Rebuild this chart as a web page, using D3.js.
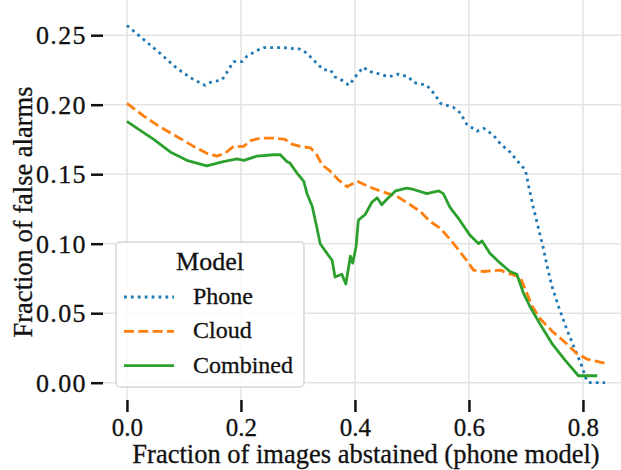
<!DOCTYPE html>
<meta charset="utf-8">
<style>
body { margin: 0; background: #fff; }
svg { display: block; }
.grid line { stroke: #e4e4e4; stroke-width: 1.5px; }
.axis path { display: none; }
.axis line { stroke: #111; stroke-width: 2.5px; }
text { stroke: #111; stroke-width: 0.3px; }
</style>
<svg width="621" height="470"></svg>
<script src="https://cdn.jsdelivr.net/npm/d3@7"></script>
<script>

// data
var phoneX = [0.000,0.029,0.058,0.088,0.117,0.137,0.146,0.167,0.175,0.187,0.202,0.211,0.228,0.240,0.275,0.304,0.316,0.330,0.345,0.357,0.365,0.380,0.389,0.395,0.406,0.415,0.424,0.444,0.459,0.476,0.494,0.503,0.526,0.541,0.550,0.573,0.585,0.596,0.614,0.626,0.643,0.655,0.672,0.684,0.699,0.705,0.713,0.722,0.731,0.737,0.746,0.757,0.772,0.786,0.798,0.807,0.813,0.839];
var phoneY = [0.257,0.247,0.237,0.226,0.218,0.214,0.216,0.218,0.223,0.231,0.231,0.235,0.239,0.241,0.241,0.240,0.237,0.231,0.225,0.225,0.220,0.217,0.214,0.217,0.223,0.227,0.224,0.222,0.220,0.222,0.220,0.216,0.214,0.207,0.201,0.198,0.194,0.186,0.181,0.183,0.178,0.172,0.166,0.160,0.153,0.141,0.126,0.111,0.096,0.084,0.069,0.055,0.038,0.024,0.012,0.001,0.000,0.000];

var cloudX = [0.000,0.029,0.058,0.088,0.117,0.140,0.158,0.172,0.187,0.205,0.216,0.234,0.257,0.278,0.286,0.304,0.322,0.333,0.342,0.357,0.371,0.386,0.404,0.424,0.444,0.474,0.497,0.515,0.532,0.550,0.567,0.579,0.596,0.608,0.626,0.655,0.667,0.690,0.699,0.711,0.725,0.746,0.766,0.789,0.807,0.839];
var cloudY = [0.201,0.192,0.184,0.177,0.170,0.165,0.163,0.165,0.170,0.170,0.174,0.176,0.176,0.175,0.172,0.170,0.169,0.164,0.157,0.152,0.146,0.141,0.145,0.141,0.138,0.134,0.128,0.123,0.116,0.111,0.103,0.097,0.088,0.081,0.080,0.081,0.079,0.076,0.067,0.055,0.046,0.037,0.030,0.021,0.017,0.014];

var combX = [0.000,0.018,0.047,0.076,0.105,0.140,0.169,0.193,0.205,0.228,0.257,0.269,0.281,0.286,0.298,0.310,0.316,0.325,0.333,0.339,0.351,0.360,0.365,0.377,0.384,0.392,0.396,0.402,0.406,0.418,0.430,0.439,0.447,0.456,0.471,0.491,0.503,0.526,0.547,0.555,0.567,0.582,0.602,0.617,0.623,0.637,0.655,0.672,0.684,0.696,0.708,0.725,0.746,0.769,0.792,0.825];
var combY = [0.188,0.183,0.175,0.166,0.160,0.156,0.159,0.161,0.160,0.163,0.164,0.164,0.159,0.158,0.151,0.145,0.136,0.127,0.112,0.100,0.093,0.088,0.076,0.078,0.071,0.091,0.086,0.098,0.117,0.121,0.130,0.133,0.128,0.132,0.138,0.140,0.139,0.136,0.138,0.136,0.126,0.118,0.106,0.100,0.102,0.093,0.086,0.080,0.078,0.064,0.054,0.042,0.028,0.016,0.005,0.005];

var xTicks = [0.0, 0.2, 0.4, 0.6, 0.8];
var yTicks = [0.00, 0.05, 0.10, 0.15, 0.20, 0.25];
var seriesNames = ["Phone", "Cloud", "Combined"];
var seriesColors = ["#1f77b4", "#ff7f0e", "#2ca02c"];
var seriesDash = ["2.8,4.1", "10,4.3", null];

var serif = "Liberation Serif";

var svg = d3.select("svg"),
    left = 103, right = 640, top = 7.5, bottom = 400;

var x = d3.scaleLinear().domain([-0.042, 0.9]).range([left, left + 0.942 * 570]);
var y = d3.scaleLinear().domain([0, 0.25]).range([382.7, 35.2]);

// grid
var grid = svg.append("g").attr("class", "grid");
grid.selectAll(".gx").data(xTicks).enter().append("line")
  .attr("x1", x).attr("x2", x).attr("y1", top).attr("y2", bottom);
grid.selectAll(".gy").data(yTicks).enter().append("line")
  .attr("x1", left).attr("x2", right).attr("y1", y).attr("y2", y);

// lines
var series = [
  d3.zip(phoneX, phoneY),
  d3.zip(cloudX, cloudY),
  d3.zip(combX, combY)
];
var line = d3.line().x(function(d) { return x(d[0]); }).y(function(d) { return y(d[1]); });

series.forEach(function(s, i) {
  svg.append("path").datum(s)
    .attr("d", line)
    .attr("fill", "none")
    .attr("stroke", seriesColors[i])
    .attr("stroke-width", 2.8)
    .attr("stroke-linejoin", "round")
    .attr("stroke-dasharray", seriesDash[i]);
});

// axes
var gx = svg.append("g").attr("class", "axis")
  .attr("transform", "translate(0," + bottom + ")")
  .call(d3.axisBottom(x).tickValues(xTicks).tickFormat(d3.format(".1f")).tickSize(12).tickPadding(6));
var gy = svg.append("g").attr("class", "axis")
  .attr("transform", "translate(" + left + ",0)")
  .call(d3.axisLeft(y).tickValues(yTicks).tickFormat(d3.format(".2f")).tickSize(12).tickPadding(4));
gx.attr("font-family", serif).attr("font-size", 25);
gy.attr("font-family", serif).attr("font-size", 26);
gx.selectAll("text").attr("fill", "#111");
gy.selectAll("text").attr("fill", "#111").style("letter-spacing", "1.4px");

// spines
svg.append("path")
  .attr("d", "M" + right + "," + top + "H" + left + "V" + bottom + "H" + right)
  .attr("fill", "none").attr("stroke", "#111").attr("stroke-width", 2.8);

// labels
svg.append("text")
  .attr("x", 366).attr("y", 463)
  .attr("text-anchor", "middle").attr("font-family", serif).attr("font-size", 26.5)
  .attr("fill", "#111")
  .text("Fraction of images abstained (phone model)");
svg.append("text")
  .attr("transform", "translate(32,212) rotate(-90)")
  .attr("text-anchor", "middle").attr("font-family", serif).attr("font-size", 26.5)
  .attr("fill", "#111")
  .text("Fraction of false alarms");

// legend
var lg = svg.append("g");
lg.append("rect")
  .attr("x", 116).attr("y", 242).attr("width", 188).attr("height", 145)
  .attr("rx", 4).attr("fill", "#fff").attr("fill-opacity", 0.85)
  .attr("stroke", "#d6d6d6").attr("stroke-width", 1.5);
lg.append("text").attr("x", 210).attr("y", 270).attr("text-anchor", "middle")
  .attr("font-family", serif).attr("font-size", 26).attr("fill", "#111").text("Model");
seriesNames.forEach(function(n, i) {
  var yy = 297 + i * 34.3;
  lg.append("line").attr("x1", 124).attr("x2", 174).attr("y1", yy).attr("y2", yy)
    .attr("stroke", seriesColors[i]).attr("stroke-width", 2.8)
    .attr("stroke-dasharray", seriesDash[i]);
  lg.append("text").attr("x", 193).attr("y", yy + 7)
    .attr("font-family", serif).attr("font-size", 24).attr("fill", "#111").text(n);
});

</script>
